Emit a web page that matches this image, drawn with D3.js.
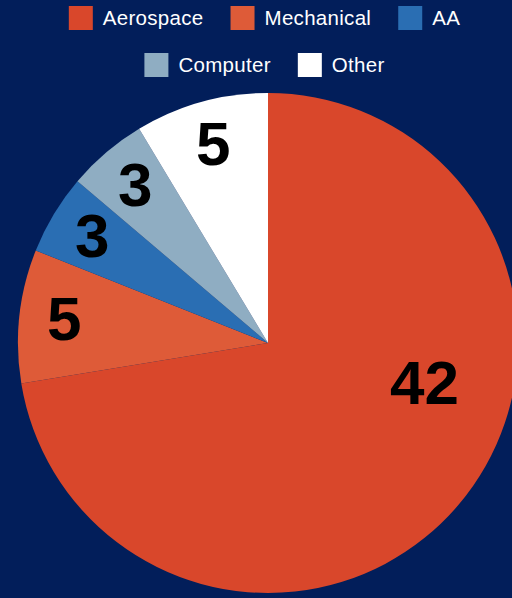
<!DOCTYPE html>
<html><head><meta charset="utf-8">
<script src="https://cdn.jsdelivr.net/npm/d3@7"></script>
<style>html,body{margin:0;padding:0;background:#021e5a;overflow:hidden}</style>
</head><body>
<svg id="chart" width="512" height="598"></svg>
<script>
const categories = ["Aerospace", "Mechanical", "AA", "Computer", "Other"];
const values = [42, 5, 3, 3, 5];
const colors = ["#d9472b", "#de5b38", "#2a6eb3", "#8fadc2", "#ffffff"];

const svg = d3.select("#chart");
const W = 512, H = 598;
svg.append("rect").attr("width", W).attr("height", H).attr("fill", "#021e5a");

const cx = 268, cy = 343, R = 250;
const pie = d3.pie().sort(null).value(d => d)(values);
const arc = d3.arc().innerRadius(0).outerRadius(R);
const g = svg.append("g").attr("transform", `translate(${cx},${cy})`);
g.selectAll("path").data(pie).enter().append("path")
  .attr("d", arc).attr("fill", (d, i) => colors[i]);

// labels
g.selectAll("text.lbl").data(pie).enter().append("text")
  .attr("class", "lbl")
  .attr("transform", d => {
    let a, r;
    if (d.endAngle - d.startAngle > Math.PI) { a = d.startAngle + (d.endAngle - d.startAngle) * 0.403; r = 162; }
    else { a = (d.startAngle + d.endAngle) / 2; r = 205; }
    return `translate(${r * Math.sin(a)},${-r * Math.cos(a) - 3})`;
  })
  .attr("text-anchor", "middle").attr("dy", "0.36em")
  .attr("font-family", "'Liberation Sans', Arial, sans-serif")
  .attr("font-weight", "bold").attr("font-size", 62).attr("fill", "#000")
  .text(d => d.data);

// legend
const rows = [[0, 1, 2], [3, 4]];
const rowY = [18, 65];
const fs = 20.5, sq = 24, gapSq = 10, gapItem = 27, legendCx = 264.5;
rows.forEach((row, ri) => {
  const lg = svg.append("g");
  let x = 0;
  row.forEach(i => {
    const it = lg.append("g").attr("transform", `translate(${x},0)`);
    it.append("rect").attr("x", 0).attr("y", rowY[ri] - sq / 2).attr("width", sq).attr("height", sq)
      .attr("fill", colors[i]);
    const t = it.append("text").attr("x", sq + gapSq).attr("y", rowY[ri]).attr("dy", "0.35em")
      .attr("font-family", "'Liberation Sans', Arial, sans-serif").attr("font-size", fs)
      .attr("letter-spacing", 0.3)
      .attr("fill", "#fff").text(categories[i]);
    x += sq + gapSq + t.node().getComputedTextLength() + gapItem;
  });
  x -= gapItem;
  lg.attr("transform", `translate(${legendCx - x / 2},0)`);
});
</script>
</body></html>
